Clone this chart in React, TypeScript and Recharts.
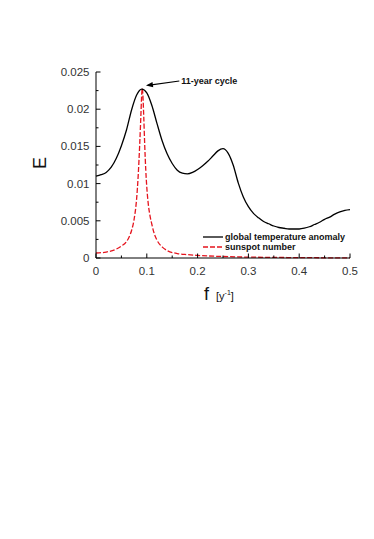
import React from "react";
import {
  LineChart,
  Line,
  XAxis,
  YAxis,
  Legend,
  Label,
  ReferenceLine,
  ReferenceDot,
} from "recharts";

// global temperature anomaly spectrum
const tempFreq = [
  0, 0.01, 0.02, 0.03, 0.04, 0.05, 0.06, 0.07, 0.08, 0.09, 0.1, 0.11, 0.12,
  0.13, 0.14, 0.15, 0.16, 0.17, 0.18, 0.19, 0.2, 0.21, 0.22, 0.23, 0.24, 0.25,
  0.26, 0.27, 0.28, 0.29, 0.3, 0.31, 0.32, 0.33, 0.34, 0.35, 0.36, 0.37, 0.38,
  0.39, 0.4, 0.41, 0.42, 0.43, 0.44, 0.45, 0.46, 0.47, 0.48, 0.49, 0.5,
];
const tempPower = [
  0.011, 0.0112, 0.0115, 0.0122, 0.0134, 0.0151, 0.0172, 0.0199, 0.0219,
  0.0227, 0.0222, 0.0205, 0.0181, 0.0158, 0.014, 0.0127, 0.0118, 0.0114,
  0.0113, 0.0115, 0.0119, 0.0124, 0.013, 0.0137, 0.0144, 0.0147, 0.0141,
  0.0125, 0.0101, 0.0082, 0.0069, 0.006, 0.0054, 0.0049, 0.0046, 0.0043,
  0.0041, 0.004, 0.0039, 0.0039, 0.0039, 0.004, 0.0042, 0.0045, 0.0048,
  0.0052, 0.0055, 0.0059, 0.0062, 0.0064, 0.0065,
];

// sunspot number spectrum
const sunFreq = [
  0, 0.02, 0.04, 0.05, 0.06, 0.065, 0.07, 0.075, 0.08, 0.083, 0.086, 0.088,
  0.09, 0.091, 0.092, 0.094, 0.096, 0.098, 0.1, 0.103, 0.106, 0.11, 0.115,
  0.12, 0.13, 0.14, 0.16, 0.18, 0.2, 0.25, 0.3, 0.35, 0.4, 0.45, 0.5,
];
const sunPower = [
  0.00067, 0.0008, 0.0012, 0.0016, 0.0022, 0.0028, 0.0037, 0.0052, 0.008,
  0.011, 0.0152, 0.0185, 0.022, 0.0228, 0.0222, 0.019, 0.015, 0.0118, 0.0095,
  0.0072, 0.0058, 0.0045, 0.0032, 0.0024, 0.0015, 0.001, 0.0006, 0.00045,
  0.00035, 0.0002, 0.00012, 0.00008, 0.00005, 0.00003, 0.00002,
];

const xTicks = [0, 0.05, 0.1, 0.15, 0.2, 0.25, 0.3, 0.35, 0.4, 0.45, 0.5];
const yTicks = [
  0, 0.0025, 0.005, 0.0075, 0.01, 0.0125, 0.015, 0.0175, 0.02, 0.0225, 0.025,
];

const tempData = tempFreq.map((f, i) => ({ f, e: tempPower[i] }));
const sunData = sunFreq.map((f, i) => ({ f, e: sunPower[i] }));

const FONT = '"Liberation Sans", Arial, sans-serif';

const XTick = (props: any) => {
  const { x, y, payload } = props;
  const major = Math.round(payload.value * 100) % 10 === 0;
  return (
    <g>
      <line x1={x} x2={x} y1={y} y2={y - (major ? 4.5 : 2.5)} stroke="#000" />
      {major && (
        <text x={x} y={y + 17} textAnchor="middle" fontSize={11.5} fill="#333" fontFamily={FONT}>
          {String(payload.value)}
        </text>
      )}
    </g>
  );
};

const YTick = (props: any) => {
  const { x, y, payload } = props;
  const major = Math.round(payload.value * 10000) % 50 === 0;
  return (
    <g>
      <line x1={x} x2={x + (major ? 4.5 : 2.5)} y1={y} y2={y} stroke="#000" />
      {major && (
        <text x={x - 6.5} y={y + 4} textAnchor="end" fontSize={11.5} fill="#333" fontFamily={FONT}>
          {String(payload.value)}
        </text>
      )}
    </g>
  );
};

const renderLegend = () => (
  <div style={{ fontFamily: FONT, fontSize: 9, fontWeight: "bold", color: "#111", lineHeight: "10px" }}>
    <div style={{ display: "flex", alignItems: "center", height: 10 }}>
      <svg width={22} height={10}>
        <line x1={0} x2={20} y1={5} y2={5} stroke="#000" strokeWidth={1.3} />
      </svg>
      <span>global temperature anomaly</span>
    </div>
    <div style={{ display: "flex", alignItems: "center", height: 10 }}>
      <svg width={22} height={10}>
        <line x1={0} x2={20} y1={5} y2={5} stroke="#e5141e" strokeWidth={1.3} strokeDasharray="5 2" />
      </svg>
      <span>sunspot number</span>
    </div>
  </div>
);

const ArrowHead = (props: any) => {
  const { cx, cy } = props;
  return (
    <polygon
      points="0,0 7,-2.6 7,2.6"
      fill="#000"
      transform={`translate(${cx},${cy}) rotate(-8)`}
    />
  );
};

const CycleText = (props: any) => {
  const { cx, cy } = props;
  return (
    <text x={cx + 2} y={cy + 3} fontSize={9} fontWeight="bold" fontFamily={FONT} fill="#111">
      11-year cycle
    </text>
  );
};

export default function App() {
  return (
    <div style={{ position: "absolute", left: 0, top: 0, background: "#fff" }}>
      <LineChart
        width={374}
        height={539}
        margin={{ top: 72, right: 24, bottom: 251, left: 0 }}
      >
        <XAxis
          dataKey="f"
          type="number"
          domain={[0, 0.5]}
          ticks={xTicks}
          interval={0}
          tickLine={false}
          tickSize={0}
          tickMargin={0}
          axisLine={{ stroke: "#000" }}
          tick={XTick}
          height={30}
        >
          <Label
            content={() => (
              <text x={204} y={300} fontFamily={FONT} fill="#111">
                <tspan fontSize={18}>f</tspan>
                <tspan fontSize={11} dx={7}>[y</tspan>
                <tspan fontSize={7} dy={-5}>-1</tspan>
                <tspan fontSize={11} dy={5}>]</tspan>
              </text>
            )}
          />
        </XAxis>
        <YAxis
          type="number"
          domain={[0, 0.025]}
          ticks={yTicks}
          interval={0}
          tickLine={false}
          tickSize={0}
          tickMargin={0}
          axisLine={{ stroke: "#000" }}
          tick={YTick}
          width={96}
        >
          <Label
            content={() => (
              <text
                x={40}
                y={163}
                transform="rotate(-90 40 163)"
                textAnchor="middle"
                dominantBaseline="central"
                fontSize={18}
                fontFamily={FONT}
                fill="#111"
              >
                E
              </text>
            )}
          />
        </YAxis>
        <Legend
          layout="horizontal"
          verticalAlign="middle"
          align="center"
          content={renderLegend}
          wrapperStyle={{ left: 203, top: 232, width: "auto" }}
        />
        <Line
          data={sunData}
          dataKey="e"
          type="monotone"
          stroke="#e5141e"
          strokeWidth={1.3}
          strokeDasharray="5 2"
          dot={false}
          isAnimationActive={false}
        />
        <Line
          data={tempData}
          dataKey="e"
          type="monotone"
          stroke="#000"
          strokeWidth={1.3}
          dot={false}
          isAnimationActive={false}
        />
        <ReferenceLine
          segment={[
            { x: 0.164, y: 0.02379 },
            { x: 0.102, y: 0.0232 },
          ]}
          stroke="#000"
          strokeWidth={1.1}
        />
        <ReferenceDot x={0.0983} y={0.02318} r={0} shape={ArrowHead} />
        <ReferenceDot x={0.164} y={0.02379} r={0} shape={CycleText} />
      </LineChart>
    </div>
  );
}
